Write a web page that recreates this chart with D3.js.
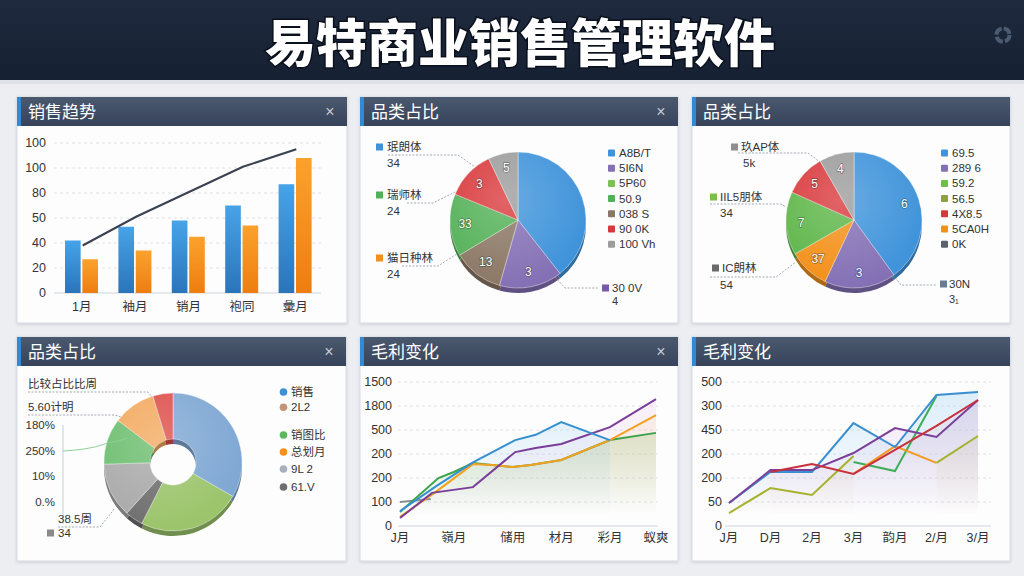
<!DOCTYPE html>
<html><head><meta charset="utf-8">
<script src="https://cdn.jsdelivr.net/npm/d3@7"></script>
<style>
html,body{margin:0;padding:0;background:#eceef2;}
svg{display:block;font-family:"Liberation Sans","Noto Sans CJK SC",sans-serif;}
</style></head><body>
<svg id="c" width="1024" height="576"></svg>
<script>
// ---------------- DATA ----------------
const pageTitle = "易特商业销售管理软件";
const panelTitles = ["销售趋势","品类占比","品类占比","品类占比","毛利变化","毛利变化"];

// Panel 1 – 销售趋势
const trendMonths = ["1月","袖月","销月","袍同","彙月"];
const trendSeries = ["销售额","成本"];
const trendSales = [42, 53, 58, 70, 87];
const trendCost = [27, 34, 45, 54, 108];
const trendLine = [38, 61, 81, 101, 115];
const trendTicks = [0, 20, 40, 60, 80, 100, 120];
const trendTickLabels = ["0","20","40","50","80","100","100"];

// Panel 2 – pie A
const pieAValues = [39.4, 15.0, 12.0, 14.8, 11.7, 7.1];
const pieALabels = ["", "3", "13", "33", "3", "5"];
const pieALegend = ["A8B/T","5I6N","5P60","50.9","038 S","90 0K","100 Vh"];
const pieACallNames = ["珉朗体","瑞师林","猫日种林","30 0V"];
const pieACallValues = ["34","24","24","4"];

// Panel 3 – pie B
const pieBValues = [40.0, 17.0, 9.7, 15.0, 10.0, 8.3];
const pieBLabels = ["6","3","37","7","5","4"];
const pieBLegend = ["69.5","289 6","59.2","56.5","4X8.5","5CA0H","0K"];
const pieBCallNames = ["玖AP体","IIL5朋体","IC朗林","30N"];
const pieBCallValues = ["5k","34","54","3₁"];

// Panel 4 – donut
const donutValues = [33.3, 24.2, 4.2, 12.8, 10.8, 10.0, 4.7];
const donutLegend = ["销售","2L2","销图比","总划月","9L 2","61.V"];
const donutSideTexts = ["比较占比比周","5.60计明"];
const donutAxisLabels = ["180%","250%","10%","0.%"];
const donutSideTrend = [0, 0.3, 0.8, 1.6, 2.9, 3.8, 5];
const donutCallName = "38.5周";
const donutCallValue = "34";

// Panel 5 – 毛利变化 A  ([position, value])
const gpATicks = [0,100,200,300,400,500,600];
const gpATickLabels = ["0","100","200","200","500","1800","1500"];
const gpAMonths = ["J月","嶺月","储用","材月","彩月","蚁爽"];
const gpAMonthPos = [0, 2.1, 4.4, 6.3, 8.2, 10];
const gpAGreen = [[0,58],[1.5,200],[2.1,225],[2.85,262],[3.6,254],[4.4,246],[5.1,254],[6.3,275],[8.2,358],[10,388]];
const gpAOrange = [[0,38],[1.4,142],[2.85,258],[3.6,254],[4.4,246],[5.1,254],[6.3,275],[8.2,358],[10,462]];
const gpAPurple = [[0,33],[1.25,138],[2.85,162],[4.5,308],[5.3,325],[6.3,342],[8.2,412],[10,529]];
const gpABlue = [[0,62],[1.4,165],[2.85,265],[4.5,358],[5.3,380],[6.3,433],[8.2,358]];
const gpAGray = [[0,100],[1.2,112]];

// Panel 6 – 毛利变化 B
const gpBTicks = [0,100,200,300,400,500,600];
const gpBTickLabels = ["0","50","200","200","450","300","500"];
const gpBMonths = ["J月","D月","2月","3月","韵月","2/月","3/月"];
const gpBBlue = [96,225,225,429,329,546,558];
const gpBPurple = [96,233,233,304,408,371,525];
const gpBRed = [null,225,258,217,317,417,525];
const gpBOlive = [54,158,129,292,null,263,375];
const gpBOrange = [null,null,null,217,333,263,null];
const gpBGreen = [null,null,null,267,229,542,null];

// ---------------- DRAW ----------------
const svg = d3.select("#c");
const defs = svg.append("defs");

function vgrad(id, stops, x1, y1, x2, y2, user){
  const g = defs.append("linearGradient").attr("id", id)
    .attr("x1", x1).attr("y1", y1).attr("x2", x2).attr("y2", y2);
  if (user) g.attr("gradientUnits","userSpaceOnUse");
  stops.forEach(s => g.append("stop").attr("offset", s[0]).attr("stop-color", s[1]).attr("stop-opacity", s[2] ?? 1));
}
vgrad("hdr", [[0,"#1f2a3e"],[1,"#162033"]], 0,0,0,1);
vgrad("ph", [[0,"#4b596f"],[1,"#36435a"]], 0,0,0,1);
vgrad("barB", [[0,"#47a3e8"],[1,"#2b74ba"]], 0,0,0,1);
vgrad("barO", [[0,"#fba22c"],[1,"#ee7d10"]], 0,0,0,1);
const sh = defs.append("filter").attr("id","shadow").attr("x","-5%").attr("y","-5%").attr("width","110%").attr("height","115%");
sh.append("feDropShadow").attr("dx",0).attr("dy",1).attr("stdDeviation",1.5).attr("flood-color","#000").attr("flood-opacity",0.14);
const shine = defs.append("radialGradient").attr("id","shine").attr("cx","40%").attr("cy","35%").attr("r","65%");
shine.append("stop").attr("offset",0).attr("stop-color","#fff").attr("stop-opacity",0.22);
shine.append("stop").attr("offset",1).attr("stop-color","#fff").attr("stop-opacity",0);

svg.append("rect").attr("width",1024).attr("height",576).attr("fill","#eceef2");
svg.append("rect").attr("width",1024).attr("height",80).attr("fill","url(#hdr)");
svg.append("rect").attr("y",80).attr("width",1024).attr("height",4).attr("fill","#dfe3e9");
svg.append("text").attr("x",520).attr("y",62).attr("text-anchor","middle")
  .attr("font-family","Noto Sans CJK SC").attr("font-weight",900).attr("font-size",51)
  .attr("fill","#fff").attr("stroke","#0a111d").attr("stroke-width",3).attr("paint-order","stroke")
  .text(pageTitle);
svg.append("circle").attr("cx",1003).attr("cy",35).attr("r",6.5).attr("fill","none")
  .attr("stroke","#4b5b72").attr("stroke-width",4).attr("stroke-dasharray","8 2.2");

function panel(x, y, w, h, title, close){
  svg.append("rect").attr("x",x).attr("y",y).attr("width",w).attr("height",h)
    .attr("fill","#fdfdfe").attr("stroke","#d5dae1").attr("filter","url(#shadow)");
  svg.append("rect").attr("x",x).attr("y",y).attr("width",w).attr("height",29).attr("fill","url(#ph)");
  svg.append("rect").attr("x",x).attr("y",y).attr("width",4).attr("height",29).attr("fill","#2f8ad8");
  svg.append("text").attr("x",x+11).attr("y",y+21).attr("fill","#fff").attr("font-size",17)
    .attr("font-family","Noto Sans CJK SC").text(title);
  if (close) svg.append("text").attr("x",x+w-17).attr("y",y+20).attr("text-anchor","middle")
    .attr("fill","#c3cad4").attr("font-size",16).text("×");
}
panel(17,97,330,226,panelTitles[0],true);
panel(360,97,318,226,panelTitles[1],true);
panel(692,97,318,226,panelTitles[2],false);
panel(17,337,329,224,panelTitles[3],true);
panel(360,337,318,224,panelTitles[4],true);
panel(692,337,318,224,panelTitles[5],false);

const txt = (x,y,s,o={}) => svg.append("text").attr("x",x).attr("y",y)
  .attr("font-size",o.size||12).attr("fill",o.fill||"#333").attr("text-anchor",o.anchor||"start")
  .attr("dominant-baseline","central").text(s);

// ---------- Panel 1 ----------
{
  const y = d3.scaleLinear().domain([0,120]).range([293,143]);
  const x = d3.scaleBand().domain(trendMonths).range([54,321]);
  const xs = d3.scaleBand().domain(trendSeries).range([11,44]).paddingInner(0.1);
  trendTicks.forEach((t,i) => {
    if (i>0) svg.append("line").attr("x1",54).attr("x2",321).attr("y1",y(t)).attr("y2",y(t))
      .attr("stroke","#dde1e6").attr("stroke-dasharray","3 3");
    txt(46, y(t), trendTickLabels[i], {anchor:"end", size:12.5});
  });
  svg.append("line").attr("x1",54).attr("x2",321).attr("y1",y(0)).attr("y2",y(0)).attr("stroke","#cfd4da");
  trendMonths.forEach(m => txt(x(m)+x.bandwidth()/2+1, 307, m, {anchor:"middle", size:12.5}));
  svg.selectAll(".bb").data(trendSales).join("rect").attr("x",(d,i)=>x(trendMonths[i])+xs(trendSeries[0]))
    .attr("width",xs.bandwidth()).attr("y",d=>y(d)).attr("height",d=>y(0)-y(d)).attr("fill","url(#barB)");
  svg.selectAll(".bo").data(trendCost).join("rect").attr("x",(d,i)=>x(trendMonths[i])+xs(trendSeries[1]))
    .attr("width",xs.bandwidth()).attr("y",d=>y(d)).attr("height",d=>y(0)-y(d)).attr("fill","url(#barO)");
  const line = d3.line().x((d,i)=>x(trendMonths[i])+x.bandwidth()/2+2).y(d=>y(d));
  svg.append("path").attr("d",line(trendLine)).attr("fill","none").attr("stroke","#3a4150").attr("stroke-width",2);
}

// ---------- Pie helper ----------
function drawPie(cx, cy, r, inner, values, colors, labels){
  const arcs = d3.pie().sort(null).value(d=>d)(values);
  const arc = d3.arc().innerRadius(inner).outerRadius(r);
  const g = svg.append("g").attr("transform",`translate(${cx},${cy})`);
  g.append("g").attr("transform","translate(0,5)").selectAll("path").data(arcs).join("path")
    .attr("d",arc).attr("fill",(d,i)=>d3.color(colors[i]).darker(0.9));
  g.append("g").selectAll("path").data(arcs).join("path").attr("d",arc)
    .attr("fill",(d,i)=>colors[i]).attr("stroke","#ffffff").attr("stroke-opacity",0.5).attr("stroke-width",0.8);
  g.append("path").attr("d", d3.arc().innerRadius(inner).outerRadius(r).startAngle(0).endAngle(2*Math.PI)())
    .attr("fill","url(#shine)");
  if (labels){
    const la = d3.arc().innerRadius(r*0.78).outerRadius(r*0.78);
    g.selectAll("text").data(arcs).join("text").attr("transform",d=>`translate(${la.centroid(d)})`)
      .attr("text-anchor","middle").attr("dominant-baseline","central").attr("font-size",12)
      .attr("fill","#fff").attr("stroke","#00000055").attr("stroke-width",1.5).attr("paint-order","stroke")
      .text((d,i)=>labels[i]);
  }
}
function leader(points){
  svg.append("path").attr("d", d3.line()(points)).attr("fill","none")
    .attr("stroke","#9aa0a8").attr("stroke-width",0.9).attr("stroke-dasharray","2 1.5");
}
function legend(x, y0, names, colors, shape){
  names.forEach((n,i) => {
    const yy = y0 + i*15.2;
    if (shape === "circle") svg.append("circle").attr("cx",x+3.5).attr("cy",yy).attr("r",3.8).attr("fill",colors[i]);
    else svg.append("rect").attr("x",x).attr("y",yy-3.5).attr("width",7).attr("height",7).attr("rx",1).attr("fill",colors[i]);
    txt(x+11, yy, n, {size:11.5});
  });
}
function sq(x,y,c){ svg.append("rect").attr("x",x).attr("y",y-3.5).attr("width",7).attr("height",7).attr("fill",c); }

// ---------- Panel 2 ----------
{
  const cols = ["#3f93da","#8470b5","#8b7765","#52b056","#d8383b","#9c9c9c"];
  drawPie(518,220,68,0,pieAValues,cols,pieALabels);
  legend(608,153,pieALegend,["#3f93da","#8470b5","#7cc252","#52b056","#8b7765","#d8383b","#9c9c9c"]);
  const cc = ["#3f93da","#52b056","#f39019","#7a5aa8"];
  const ys = [147,195,258];
  ys.forEach((yy,i)=>{ sq(376,yy,cc[i]); txt(387,yy,pieACallNames[i],{size:11.5}); txt(387,yy+16,pieACallValues[i],{size:11.5}); });
  leader([[388,155],[458,155],[475,167]]);
  leader([[407,203],[433,203],[455,192]]);
  leader([[402,266],[438,266],[457,254]]);
  leader([[555,277],[565,288],[598,288]]);
  sq(602,288,cc[3]); txt(612,288,pieACallNames[3],{size:11.5}); txt(612,301,pieACallValues[3],{size:11});
}

// ---------- Panel 3 ----------
{
  const cols = ["#3f93da","#8470b5","#f39019","#5db548","#d8383b","#9c9c9c"];
  drawPie(854,220,68,0,pieBValues,cols,pieBLabels);
  legend(941,153,pieBLegend,["#3f93da","#8470b5","#6cc04a","#8fa040","#d8383b","#f39019","#5a6270"]);
  const cc = ["#8e8e8e","#7cbf48","#6a6a6a","#6b7a93"];
  sq(731,147,cc[0]); txt(741,147,pieBCallNames[0],{size:11.5}); txt(743,163,pieBCallValues[0],{size:11.5});
  sq(710,197,cc[1]); txt(720,197,pieBCallNames[1],{size:11.5}); txt(720,213,pieBCallValues[1],{size:11.5});
  sq(712,268,cc[2]); txt(722,268,pieBCallNames[2],{size:11.5}); txt(720,285,pieBCallValues[2],{size:11.5});
  leader([[738,153],[808,153],[820,162]]);
  leader([[710,204],[781,204],[786,207]]);
  leader([[710,277],[776,277],[796,262]]);
  leader([[893,275],[901,285],[936,285]]);
  sq(940,284,cc[3]); txt(949,284,pieBCallNames[3],{size:11.5}); txt(949,299,pieBCallValues[3],{size:11});
}

// ---------- Panel 4 ----------
{
  const cols = ["#7ea7d3","#9bc46b","#6e6e6e","#a9a9a9","#6cbd6e","#f2a95e","#dc4e4a"];
  drawPie(173,462,69,23,donutValues,cols,null);
  legend(280,392,donutLegend.slice(0,2),["#3d8fd6","#c0957a"],"circle");
  [["#5cb85c",435],["#f39019",452],["#a8b0bc",469],["#6e6e6e",487]].forEach((c,i)=>{
    svg.append("circle").attr("cx",283.5).attr("cy",c[1]).attr("r",3.8).attr("fill",c[0]);
    txt(291,c[1],donutLegend[i+2],{size:11.5});
  });
  txt(28,384,donutSideTexts[0],{size:11.5});
  txt(28,407,donutSideTexts[1],{size:11.5});
  const ay = d3.scalePoint().domain(donutAxisLabels).range([425,502]);
  donutAxisLabels.forEach(l => txt(55, ay(l), l, {anchor:"end", size:11.5}));
  svg.append("line").attr("x1",63).attr("x2",63).attr("y1",425).attr("y2",524).attr("stroke","#c9ced5");
  const sx = d3.scaleLinear().domain([0,donutSideTrend.length-1]).range([63,128]);
  const sy = d3.scaleLinear().domain([0,5]).range([451,438]);
  svg.append("path").attr("d",d3.line().x((d,i)=>sx(i)).y(d=>sy(d))(donutSideTrend))
    .attr("fill","none").attr("stroke","#8fcf9a").attr("stroke-width",1);
  leader([[28,392],[148,392],[152,397]]);
  leader([[28,415],[115,415],[121,417]]);
  leader([[58,527],[100,527],[115,508]]);
  txt(58,519,donutCallName,{size:11.5});
  sq(47,533,"#8a8a8a"); txt(58,533,donutCallValue,{size:11.5});
}

// ---------- Line chart helper ----------
function gridAxis(x0, x1, y, ticks, labels, lx){
  ticks.forEach((t,i)=>{
    if (i>0) svg.append("line").attr("x1",x0).attr("x2",x1).attr("y1",y(t)).attr("y2",y(t))
      .attr("stroke","#dde1e6").attr("stroke-dasharray","3 3");
    txt(lx, y(t), labels[i], {anchor:"end", size:12.5});
  });
  svg.append("line").attr("x1",x0).attr("x2",x1).attr("y1",y(0)).attr("y2",y(0)).attr("stroke","#cfd4da");
}
function areaGrad(id, color, op){
  vgrad(id, [[0,color,op],[0.55,color,op*0.45],[0.92,color,0]], 0,382,0,526,true);
}

// ---------- Panel 5 ----------
{
  const x = d3.scaleLinear().domain([0,10]).range([400,656]);
  const y = d3.scaleLinear().domain([0,600]).range([526,382]);
  gridAxis(398,658,y,gpATicks,gpATickLabels,392);
  gpAMonths.forEach((m,i)=>txt(x(gpAMonthPos[i]), 538, m, {anchor:"middle", size:12.5}));
  areaGrad("a5g","#8cc866",0.45); areaGrad("a5o","#f7c070",0.18); areaGrad("a5p","#e0a8d8",0.2); areaGrad("a5b","#8cc8ee",0.3);
  const area = d3.area().x(d=>x(d[0])).y0(y(0)).y1(d=>y(d[1]));
  const line = d3.line().x(d=>x(d[0])).y(d=>y(d[1]));
  [[gpAGreen,"a5g"],[gpAPurple,"a5p"],[gpAOrange,"a5o"],[gpABlue,"a5b"]].forEach(s=>
    svg.append("path").attr("d",area(s[0])).attr("fill",`url(#${s[1]})`));
  [[gpAGray,"#8d8f95"],[gpAGreen,"#3da34a"],[gpAOrange,"#f5a020"],[gpAPurple,"#7a3e98"],[gpABlue,"#3590cf"]].forEach(s=>
    svg.append("path").attr("d",line(s[0])).attr("fill","none").attr("stroke",s[1]).attr("stroke-width",2));
}

// ---------- Panel 6 ----------
{
  const idx = d3.range(gpBMonths.length);
  const x = d3.scalePoint().domain(idx).range([729,978]);
  const y = d3.scaleLinear().domain([0,600]).range([526,382]);
  gridAxis(725,991,y,gpBTicks,gpBTickLabels,722);
  gpBMonths.forEach((m,i)=>txt(x(i), 538, m, {anchor:"middle", size:12.5}));
  areaGrad("a6o","#e0cc88",0.4); areaGrad("a6r","#eaa0b0",0.25); areaGrad("a6p","#d8b0e4",0.3); areaGrad("a6b","#9ccff0",0.35);
  const area = d3.area().defined(d=>d!==null).x((d,i)=>x(i)).y0(y(0)).y1(d=>y(d));
  const line = d3.line().defined(d=>d!==null).x((d,i)=>x(i)).y(d=>y(d));
  [[gpBOlive,"a6o"],[gpBRed,"a6r"],[gpBPurple,"a6p"],[gpBBlue,"a6b"]].forEach(s=>
    svg.append("path").attr("d",area(s[0])).attr("fill",`url(#${s[1]})`));
  [[gpBOlive,"#a5b22c"],[gpBGreen,"#3fae5a"],[gpBOrange,"#f39a1f"],[gpBBlue,"#3a8fd0"],[gpBPurple,"#7b3f9a"],[gpBRed,"#c8303f"]].forEach(s=>
    svg.append("path").attr("d",line(s[0])).attr("fill","none").attr("stroke",s[1]).attr("stroke-width",2));
}
</script>
</body></html>
